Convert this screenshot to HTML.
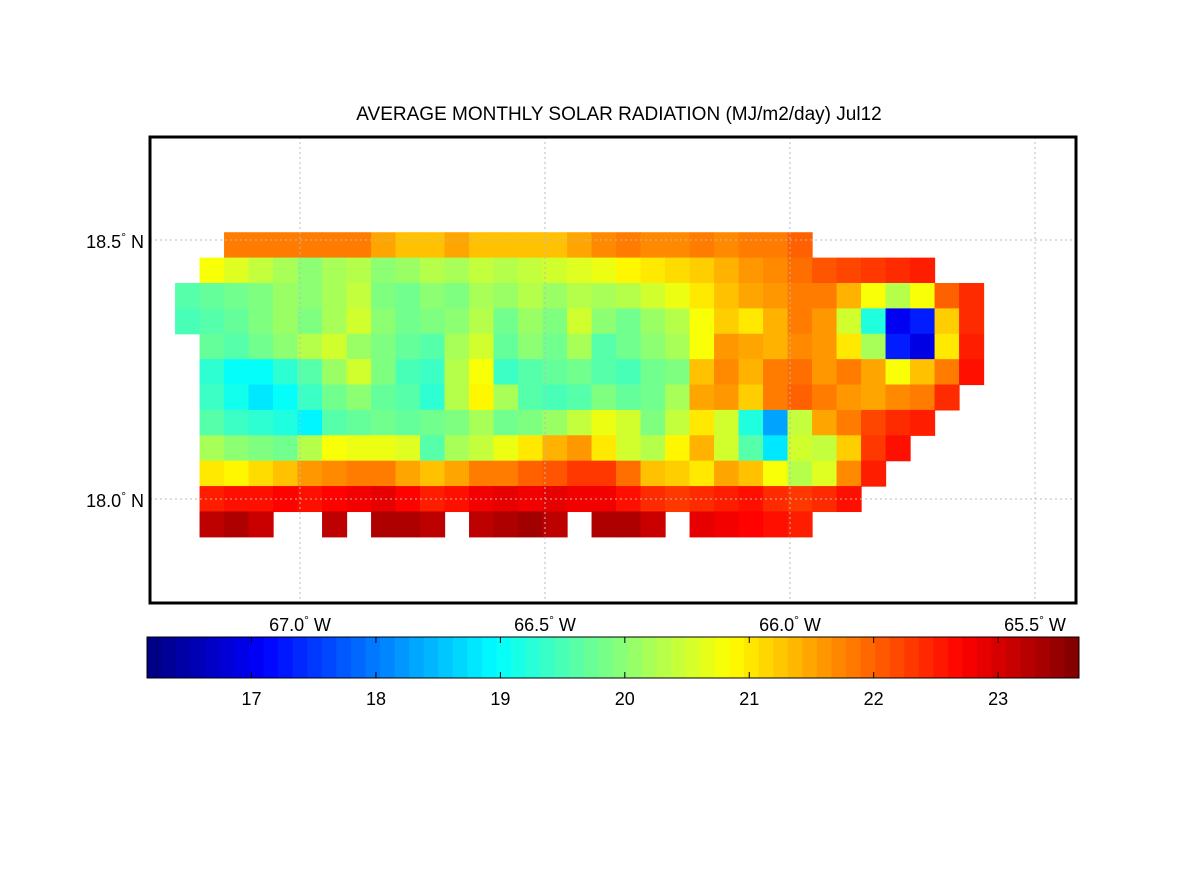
<!DOCTYPE html>
<html><head><meta charset="utf-8"><style>
body{margin:0;background:#fff;width:1186px;height:871px;overflow:hidden;font-family:"Liberation Sans",Arial,sans-serif}
</style></head><body>
<svg id="fig" width="1186" height="871" xmlns="http://www.w3.org/2000/svg" font-family="Liberation Sans, Arial, sans-serif">
<rect width="1186" height="871" fill="#fff"/>
<text x="619" y="120" font-size="19" text-anchor="middle">AVERAGE MONTHLY SOLAR RADIATION (MJ/m2/day) Jul12</text>
<g id="cells"></g>
<g id="grid"></g>
<rect x="150" y="137" width="926" height="466" fill="none" stroke="#000" stroke-width="3"/>
<g id="labels"></g>
<g id="cbar"></g>
</svg>
<script>
const lonTicks=[-67.0,-66.5,-66.0,-65.5];
const latTicks=[18.5,18.0];
const cbTicks=[17,18,19,20,21,22,23];
const lonStart=-67.255, lonStep=0.05;
const latStart=18.515, latStep=0.049;
const cMin=16.16, cMax=23.65;
const row0=[0,0,21.8,21.8,21.8,21.8,21.8,21.8,21.5,21.3,21.3,21.5,21.3,21.3,21.3,21.3,21.5,21.7,21.8,21.7,21.7,21.8,21.7,21.8,21.8,22.0,0,0,0,0,0,0,0];
const row1=[0,20.8,20.6,20.4,20.2,20.0,20.2,20.3,20.0,20.1,20.3,20.2,20.4,20.3,20.4,20.5,20.6,20.7,20.9,21.0,21.1,21.2,21.4,21.6,21.7,21.9,22.1,22.2,22.3,22.4,22.5,0,0];
const row2=[19.6,19.7,19.8,19.9,20.1,20.0,20.2,20.4,19.9,19.8,20.0,19.9,20.2,20.1,20.3,20.1,20.3,20.2,20.3,20.5,20.7,21.0,21.3,21.5,21.6,21.8,21.8,21.4,20.8,20.3,20.8,22.0,22.4];
const row3=[19.5,19.6,19.7,19.9,20.1,19.9,20.2,20.5,20.0,19.8,19.9,20.0,20.3,19.8,20.1,19.9,20.5,20.0,19.8,20.1,20.3,20.8,21.2,21.0,21.4,21.8,21.6,20.5,19.2,17.0,17.3,21.2,22.4];
const row4=[0,19.7,19.6,19.8,20.0,20.3,20.5,20.1,19.9,19.7,19.6,20.2,20.5,19.7,20.0,19.8,20.2,19.6,19.8,20.0,20.2,20.8,21.6,21.5,21.4,21.7,21.6,21.0,20.2,17.3,16.9,21.0,22.5];
const row5=[0,19.3,19.0,19.0,19.3,19.6,20.1,20.5,19.9,19.5,19.4,20.3,20.8,19.4,19.6,19.7,19.8,19.6,19.5,19.8,19.9,21.3,21.7,21.4,21.8,21.9,21.6,21.8,21.5,20.8,21.3,21.8,22.6];
const row6=[0,19.4,19.1,18.8,19.0,19.4,19.8,20.0,19.7,19.6,19.3,20.3,20.9,20.2,19.6,19.5,19.6,19.9,19.7,19.8,20.2,21.5,21.6,21.2,21.8,22.0,21.8,21.6,21.5,21.7,21.8,22.4,0];
const row7=[0,19.6,19.4,19.3,19.2,18.9,19.6,19.7,19.8,19.7,19.8,19.9,20.2,19.8,19.9,20.1,20.4,20.7,20.5,19.9,20.4,21.0,20.5,19.2,18.3,20.4,21.5,21.8,22.2,22.4,22.5,0,0];
const row8=[0,20.2,20.0,19.9,19.8,20.3,20.8,20.7,20.7,20.6,19.6,20.2,20.4,20.7,21.0,21.4,21.6,21.0,20.5,20.3,20.9,21.4,20.5,19.6,18.8,20.5,20.4,21.2,22.3,22.6,0,0,0];
const row9=[0,21.0,20.9,21.1,21.3,21.6,21.7,21.8,21.8,21.5,21.3,21.5,21.8,21.8,22.0,22.1,22.3,22.3,21.9,21.3,21.2,21.0,21.5,21.3,20.8,20.3,20.6,21.7,22.5,0,0,0,0];
const row10=[0,22.5,22.6,22.6,22.7,22.6,22.7,22.8,22.9,22.7,22.5,22.6,22.8,22.9,22.8,22.9,22.8,22.8,22.6,22.4,22.3,22.4,22.5,22.6,22.4,22.3,22.4,22.6,0,0,0,0,0];
const row11=[0,23.2,23.3,23.1,0,0,23.2,0,23.3,23.3,23.2,0,23.2,23.3,23.4,23.2,0,23.3,23.3,23.1,0,22.9,22.8,22.7,22.6,22.5,0,0,0,0,0,0,0];
const rows=[row0,row1,row2,row3,row4,row5,row6,row7,row8,row9,row10,row11];

const NS='http://www.w3.org/2000/svg';
function xOf(lon){return 300+(lon+67.0)*490;}
function yOf(lat){return 240+(18.5-lat)*518;}
function jet(v){
  let t=(v-cMin)/(cMax-cMin);t=Math.max(0,Math.min(1,t));
  const f=x=>Math.max(0,Math.min(1,x));
  const r=f(1.5-Math.abs(4*t-3)),g=f(1.5-Math.abs(4*t-2)),b=f(1.5-Math.abs(4*t-1));
  return `rgb(${Math.round(r*255)},${Math.round(g*255)},${Math.round(b*255)})`;
}
function mk(tag,attrs,parent){const e=document.createElementNS(NS,tag);for(const k in attrs)e.setAttribute(k,attrs[k]);parent.appendChild(e);return e;}
const cells=document.getElementById('cells');
rows.forEach((row,j)=>{
  const y0=yOf(latStart-j*latStep),y1=yOf(latStart-(j+1)*latStep);
  row.forEach((v,i)=>{
    if(!v)return;
    const x0=xOf(lonStart+i*lonStep),x1=xOf(lonStart+(i+1)*lonStep);
    const r=mk('rect',{x:x0,y:y0,width:x1-x0+0.6,height:y1-y0+0.6,fill:jet(v)},cells);
    
    
  });
});
const grid=document.getElementById('grid'),labels=document.getElementById('labels');
lonTicks.forEach(l=>{
  const x=xOf(l);
  const g=mk('line',{x1:x,x2:x,y1:137,y2:603,stroke:'#bbb','stroke-width':1,'stroke-dasharray':'2,3'},grid);
  
  
  const t=mk('text',{x:x,y:631,'font-size':18,'text-anchor':'middle'},labels);
  
  
  t.innerHTML=Math.abs(l).toFixed(1)+'<tspan dy="-7" font-size="12">°</tspan><tspan dy="7"> W</tspan>';
});
latTicks.forEach(l=>{
  const y=yOf(l);
  const g=mk('line',{x1:150,x2:1076,y1:y,y2:y,stroke:'#bbb','stroke-width':1,'stroke-dasharray':'2,3'},grid);
  
  
  const t=mk('text',{x:144,y:y+8,'font-size':18,'text-anchor':'end'},labels);
  
  
  t.innerHTML=l.toFixed(1)+'<tspan dy="-7" font-size="12">°</tspan><tspan dy="7"> N</tspan>';
});
const cb=document.getElementById('cbar');
const cbX0=147,cbX1=1079,cbY=637,cbH=41,N=64;
for(let k=0;k<N;k++){
  const v=cMin+(k+0.5)*(cMax-cMin)/N;
  const x=cbX0+k*(cbX1-cbX0)/N;
  const r=mk('rect',{x:x,y:cbY,width:(cbX1-cbX0)/N+0.5,height:cbH,fill:jet(v)},cb);
  
  
}
const fr=mk('rect',{x:cbX0,y:cbY,width:cbX1-cbX0,height:cbH,fill:'none',stroke:'#000','stroke-width':1},cb);


cbTicks.forEach(v=>{
  const x=cbX0+(v-cMin)/(cMax-cMin)*(cbX1-cbX0);
  mk('line',{x1:x,x2:x,y1:cbY,y2:cbY+6,stroke:'#000'},cb);
  mk('line',{x1:x,x2:x,y1:cbY+cbH-6,y2:cbY+cbH,stroke:'#000'},cb);
  const t=mk('text',{x:x,y:705,'font-size':18,'text-anchor':'middle'},cb);
  
  
  t.textContent=v;
});
</script>
</body></html>
